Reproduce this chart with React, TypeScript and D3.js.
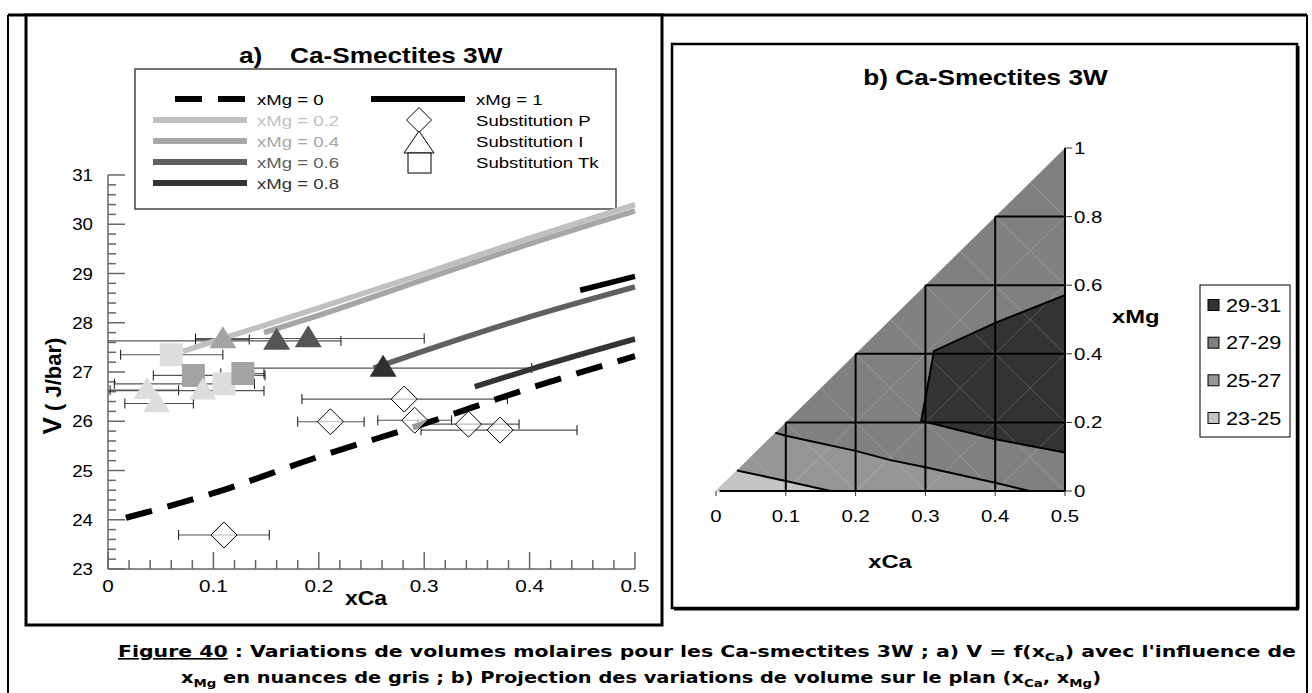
import React from 'react';
import * as d3 from 'd3';

// ---------- Panel a data ----------
const lineXMg0: [number, number][] = [[0.017, 24.04], [0.1, 24.54], [0.2, 25.28], [0.3, 25.95], [0.4, 26.67], [0.5, 27.32]];
const lineXMg02: [number, number][] = [[0.071, 27.42], [0.1, 27.62], [0.2, 28.3], [0.3, 29.0], [0.4, 29.72], [0.5, 30.4]];
const lineXMg04: [number, number][] = [[0.148, 27.8], [0.2, 28.15], [0.3, 28.88], [0.4, 29.6], [0.5, 30.27]];
const lineXMg06: [number, number][] = [[0.252, 27.08], [0.3, 27.43], [0.4, 28.12], [0.5, 28.73]];
const lineXMg08: [number, number][] = [[0.348, 26.7], [0.4, 27.05], [0.5, 27.67]];
const lineXMg1: [number, number][] = [[0.448, 28.66], [0.5, 28.94]];

const levelLabels = ['xMg = 0', 'xMg = 0.2', 'xMg = 0.4', 'xMg = 0.6', 'xMg = 0.8'];
const levelColors = ['#000000', '#c0c0c0', '#a6a6a6', '#606060', '#333333'];

// Substitution P (diamonds): xCa, V, error low, error high
const substP = [
  { x: 0.281, v: 26.45, lo: 0.184, hi: 0.379 },
  { x: 0.211, v: 25.99, lo: 0.18, hi: 0.243 },
  { x: 0.291, v: 26.02, lo: 0.256, hi: 0.326 },
  { x: 0.342, v: 25.94, lo: 0.294, hi: 0.39 },
  { x: 0.372, v: 25.82, lo: 0.297, hi: 0.445 },
  { x: 0.11, v: 23.69, lo: 0.067, hi: 0.153 },
];
// Substitution I (triangles)
const substI = [
  { x: 0.037, v: 26.63, lo: 0.002, hi: 0.067, c: '#dcdddc' },
  { x: 0.046, v: 26.36, lo: 0.016, hi: 0.081, c: '#dcdddc' },
  { x: 0.09, v: 26.62, lo: -0.05, hi: 0.148, c: '#dcdddc' },
  { x: 0.109, v: 27.66, lo: 0.083, hi: 0.134, c: '#a3a3a3' },
  { x: 0.16, v: 27.63, lo: -0.05, hi: 0.221, c: '#555555' },
  { x: 0.19, v: 27.68, lo: 0.083, hi: 0.3, c: '#555555' },
  { x: 0.261, v: 27.08, lo: 0.12, hi: 0.402, c: '#303030' },
];
// Substitution Tk (squares)
const substTk = [
  { x: 0.06, v: 27.35, lo: 0.012, hi: 0.109, c: '#dcdddc' },
  { x: 0.081, v: 26.93, lo: 0.043, hi: 0.149, c: '#a3a3a3' },
  { x: 0.11, v: 26.76, lo: 0.006, hi: 0.139, c: '#dcdddc' },
  { x: 0.128, v: 26.97, lo: 0.107, hi: 0.148, c: '#a3a3a3' },
];

// ---------- Panel b data ----------
const band2325: [number, number][] = [[0, 0], [0.03, 0.06], [0.1, 0.029], [0.164, 0]];
const band2527: [number, number][] = [[0, 0], [0.085, 0.17], [0.1, 0.161], [0.2, 0.117], [0.25, 0.09], [0.3, 0.069], [0.4, 0.024], [0.449, 0]];
const band2931: [number, number][] = [[0.5, 0.112], [0.4, 0.151], [0.294, 0.205], [0.311, 0.392], [0.312, 0.408], [0.4, 0.49], [0.5, 0.571]];
const triangleOutline: [number, number][] = [[0, 0], [0.5, 0], [0.5, 1]];
const bandLabels = ['29-31', '27-29', '25-27', '23-25'];
const bandColors = ['#333333', '#808080', '#969696', '#c4c4c4'];

// ---------- scales ----------
const xA = d3.scaleLinear().domain([0, 0.5]).range([108, 635]);
const yA = d3.scaleLinear().domain([23, 31]).range([569, 175]);
const xB = d3.scaleLinear().domain([0, 0.5]).range([716, 1065]);
const yB = d3.scaleLinear().domain([0, 1]).range([491, 148]);

const ARIAL = "'Liberation Sans', Arial, Helvetica, sans-serif";

function T(props: any) {
  const { x, y, children, size = 16, weight = 'normal', anchor = 'start', fill = '#000', sx = 1.2, rotate = 0, family = ARIAL } = props;
  return (
    <text transform={`translate(${x},${y}) rotate(${rotate}) scale(${sx},1)`} fontSize={size} fontWeight={weight}
      textAnchor={anchor} fill={fill} fontFamily={family}>{children}</text>
  );
}

const lineA = d3.line<[number, number]>().x(d => xA(d[0])).y(d => yA(d[1])).curve(d3.curveMonotoneX);
const polyB = (pts: [number, number][]) => 'M' + pts.map(p => `${xB(p[0])},${yB(p[1])}`).join('L') + 'Z';
const lineB = d3.line<[number, number]>().x(d => xB(d[0])).y(d => yB(d[1]));

function triPath(cx: number, cy: number, w: number, h: number) {
  return `M${cx},${cy - h * 0.6}L${cx + w / 2},${cy + h * 0.4}L${cx - w / 2},${cy + h * 0.4}Z`;
}
function diaPath(cx: number, cy: number, r: number) {
  return `M${cx},${cy - r}L${cx + r},${cy}L${cx},${cy + r}L${cx - r},${cy}Z`;
}

function ErrBar({ d }: any) {
  const y = yA(d.v);
  const x1 = xA(Math.max(d.lo, 0));
  const x2 = xA(d.hi);
  return (
    <g>
      <line x1={x1} x2={x2} y1={y} y2={y} stroke="#555" strokeWidth={1.2} />
      {d.lo >= 0 && <line x1={xA(d.lo)} x2={xA(d.lo)} y1={y - 5} y2={y + 5} stroke="#111" strokeWidth={1} />}
      <line x1={x2} x2={x2} y1={y - 5} y2={y + 5} stroke="#111" strokeWidth={1} />
    </g>
  );
}

function PanelA() {
  const majorX = xA.ticks(5);
  const minorX = xA.ticks(25);
  const majorY = yA.ticks(8);
  const minorY = yA.ticks(40);
  const fmt = (d: number) => String(+d.toFixed(2));
  const legendRows = [99, 120, 141, 162, 183];
  const allBars = [...substTk, ...substI, ...substP];
  return (
    <g>
      {/* title */}
      <T x={239} y={63} size={22} weight="bold" sx={1.19}>a)</T>
      <T x={290} y={63} size={22} weight="bold" sx={1.19}>Ca-Smectites 3W</T>

      {/* axes */}
      <g stroke="#666" strokeWidth={1.5}>
        <line x1={xA(0)} x2={xA(0)} y1={yA(23)} y2={yA(31)} />
        <line x1={xA(0)} x2={xA(0.5)} y1={yA(23)} y2={yA(23)} />
        {minorY.map((d, i) => (
          <line key={'my' + i} x1={xA(0)} x2={xA(0) + (Number.isInteger(+d.toFixed(3)) ? 17 : 8)} y1={yA(d)} y2={yA(d)} />
        ))}
        {minorX.map((d, i) => (
          <line key={'mx' + i} x1={xA(d)} x2={xA(d)} y1={yA(23)} y2={yA(23) - (Math.abs(d * 10 - Math.round(d * 10)) < 1e-6 ? 17 : 9)} />
        ))}
      </g>
      {majorY.map((d, i) => (
        <T key={'ly' + i} x={93} y={yA(d) + 6} size={17} sx={1.1} anchor="end">{fmt(d)}</T>
      ))}
      {majorX.map((d, i) => (
        <T key={'lx' + i} x={xA(d)} y={592} size={17} sx={1.22} anchor="middle">{fmt(d)}</T>
      ))}
      <T x={366} y={605} size={20} weight="bold" sx={1.15} anchor="middle">xCa</T>
      <g transform="translate(61,386) rotate(-90)">
        <text textAnchor="middle" fontFamily={ARIAL} fontWeight="bold">
          <tspan fontSize={26}>V</tspan><tspan fontSize={22}>{'  ( J/bar)'}</tspan>
        </text>
      </g>

      {/* legend */}
      <rect x={135} y={69} width={481} height={140} fill="#fff" stroke="#444" strokeWidth={1.5} />
      <line x1={175} x2={247} y1={legendRows[0]} y2={legendRows[0]} stroke="#000" strokeWidth={6} strokeDasharray="27 16" />
      {levelLabels.map((lab, i) => (
        <g key={'leg' + i}>
          {i > 0 && <line x1={153} x2={247} y1={legendRows[i]} y2={legendRows[i]} stroke={levelColors[i]} strokeWidth={6} />}
          <T x={257} y={legendRows[i] + 5.5} size={15} sx={1.24} fill={i === 0 ? '#000' : levelColors[i]}>{lab}</T>
        </g>
      ))}
      <line x1={371} x2={465} y1={legendRows[0]} y2={legendRows[0]} stroke="#000" strokeWidth={6} />
      <T x={476} y={legendRows[0] + 5.5} size={15} sx={1.24}>xMg = 1</T>
      <path d={diaPath(419, 120, 12.5)} fill="#fff" stroke="#000" strokeWidth={1} />
      <path d={`M419,131L434,153L404,153Z`} fill="#fff" stroke="#000" strokeWidth={1} />
      <rect x={408} y={153} width={23} height={20} fill="#fff" stroke="#000" strokeWidth={1} />
      <T x={476} y={legendRows[1] + 5.5} size={15} sx={1.24}>Substitution P</T>
      <T x={476} y={legendRows[2] + 5.5} size={15} sx={1.24}>Substitution I</T>
      <T x={476} y={legendRows[3] + 5.5} size={15} sx={1.24}>Substitution Tk</T>

      {/* plot content */}
      <g clipPath="url(#clipA)">
        {allBars.map((d, i) => <ErrBar key={'eb' + i} d={d} />)}
        <path d={lineA(lineXMg0) || ''} fill="none" stroke="#000" strokeWidth={6} strokeDasharray="27 16" />
        <path d={lineA(lineXMg04) || ''} fill="none" stroke={levelColors[2]} strokeWidth={5.5} />
        <path d={lineA(lineXMg02) || ''} fill="none" stroke={levelColors[1]} strokeWidth={5.5} />
        <path d={lineA(lineXMg06) || ''} fill="none" stroke={levelColors[3]} strokeWidth={5.5} />
        <path d={lineA(lineXMg08) || ''} fill="none" stroke={levelColors[4]} strokeWidth={5.5} />
        <path d={lineA(lineXMg1) || ''} fill="none" stroke="#000" strokeWidth={5.5} />
        {substTk.map((d, i) => (
          <rect key={'sq' + i} x={xA(d.x) - 11.5} y={yA(d.v) - 11.5} width={23} height={23} fill={d.c} />
        ))}
        {substI.map((d, i) => (
          <path key={'tr' + i} d={triPath(xA(d.x), yA(d.v), 27, 22)} fill={d.c} />
        ))}
        {substP.map((d, i) => (
          <path key={'di' + i} d={diaPath(xA(d.x), yA(d.v), 13)} fill="#fff" fillOpacity={0.6} stroke="#000" strokeWidth={1} />
        ))}
      </g>
    </g>
  );
}

function PanelB() {
  const xt = xB.ticks(5);
  const yt = [0, 0.2, 0.4, 0.6, 0.8, 1];
  const fmt = (d: number) => String(+d.toFixed(2));
  const cells: JSX.Element[] = [];
  for (let i = 0; i < 5; i++) {
    for (let j = 0; j < 5; j++) {
      const x0 = i * 0.1, x1 = x0 + 0.1, y0 = j * 0.2, y1 = y0 + 0.2;
      cells.push(<line key={`c1-${i}-${j}`} x1={xB(x0)} y1={yB(y1)} x2={xB(x1)} y2={yB(y0)} />);
      cells.push(<line key={`c2-${i}-${j}`} x1={xB(x0)} y1={yB(y0)} x2={xB(x1)} y2={yB(y1)} />);
    }
  }
  const legendRows = [305, 342.7, 380.3, 418];
  return (
    <g>
      <T x={985.5} y={85} size={22} weight="bold" sx={1.19} anchor="middle">b) Ca-Smectites 3W</T>
      <defs>
        <clipPath id="clipTri"><path d={polyB(triangleOutline)} /></clipPath>
      </defs>
      <path d={polyB(triangleOutline)} fill={bandColors[1]} />
      <g clipPath="url(#clipTri)">
        <path d={polyB(band2527)} fill={bandColors[2]} />
        <path d={polyB(band2325)} fill={bandColors[3]} />
        <path d={polyB(band2931)} fill={bandColors[0]} />
        <g stroke="#ffffff" strokeOpacity={0.28} strokeWidth={0.7}>{cells}</g>
      </g>
      {/* contour boundaries */}
      <g fill="none" stroke="#000" strokeWidth={2}>
        <path d={lineB(band2325.slice(1)) || ''} />
        <path d={lineB(band2527.slice(1)) || ''} />
        <path d={lineB(band2931) || ''} />
      </g>
      {/* grid */}
      <g stroke="#000" strokeWidth={2}>
        {[0.1, 0.2, 0.3, 0.4].map(v => (
          <line key={'gv' + v} x1={xB(v)} x2={xB(v)} y1={yB(0)} y2={yB(2 * v)} />
        ))}
        {[0.2, 0.4, 0.6, 0.8].map(v => (
          <line key={'gh' + v} x1={xB(v / 2)} x2={xB(0.5)} y1={yB(v)} y2={yB(v)} />
        ))}
        <line x1={xB(0.005)} x2={xB(0.5)} y1={yB(0)} y2={yB(0)} />
        <line x1={xB(0.5)} x2={xB(0.5)} y1={yB(0)} y2={yB(1)} />
      </g>
      {/* ticks */}
      <g stroke="#333" strokeWidth={1}>
        {xt.map((d, i) => <line key={'tx' + i} x1={xB(d)} x2={xB(d)} y1={yB(0)} y2={yB(0) + 5} />)}
        {yt.map((d, i) => <line key={'ty' + i} x1={xB(0.5)} x2={xB(0.5) + 7} y1={yB(d)} y2={yB(d)} />)}
      </g>
      {xt.map((d, i) => (
        <T key={'lbx' + i} x={xB(d)} y={522} size={17} sx={1.2} anchor="middle">{fmt(d)}</T>
      ))}
      {yt.map((d, i) => (
        <T key={'lby' + i} x={1074} y={yB(d) + 6} size={17} sx={1.2}>{fmt(d)}</T>
      ))}
      <T x={890} y={568} size={19} weight="bold" sx={1.25} anchor="middle">xCa</T>
      <T x={1112} y={323} size={19} weight="bold" sx={1.25}>xMg</T>
      {/* legend */}
      <rect x={1200} y={285} width={90} height={152} fill="#fff" stroke="#000" strokeWidth={1} />
      {bandLabels.map((lab, i) => (
        <g key={'bl' + i}>
          <rect x={1208} y={legendRows[i] - 5.5} width={11} height={11} fill={bandColors[i]} stroke="#000" strokeWidth={1} />
          <T x={1226} y={legendRows[i] + 6.5} size={18} sx={1.2}>{lab}</T>
        </g>
      ))}
    </g>
  );
}

export default function App() {
  const CAP = "'DejaVu Sans', Verdana, sans-serif";
  return (
    <svg width={1312} height={693} style={{ position: 'absolute', left: 0, top: 0, background: '#fff' }}>
      <defs>
        <clipPath id="clipA"><rect x={xA(0)} y={yA(31.5)} width={xA(0.5) - xA(0) + 4} height={yA(23) - yA(31.5)} /></clipPath>
      </defs>
      <rect x={0} y={0} width={1312} height={693} fill="#fff" />
      {/* outer frame */}
      <line x1={8} x2={1307} y1={15} y2={15} stroke="#000" strokeWidth={3} />
      <line x1={8} x2={8} y1={15} y2={693} stroke="#000" strokeWidth={2} />
      <line x1={1307} x2={1307} y1={15} y2={693} stroke="#000" strokeWidth={2} />
      {/* panel frames */}
      <rect x={26} y={15} width={636} height={610} fill="#fff" stroke="#000" strokeWidth={3} />
      <rect x={672} y={44} width={625} height={564} fill="#fff" stroke="#000" strokeWidth={2.5} />
      <line x1={1298.5} x2={1298.5} y1={46} y2={609} stroke="#000" strokeWidth={2} />
      <line x1={674} x2={1299} y1={609.5} y2={609.5} stroke="#000" strokeWidth={2} />
      <PanelA />
      <PanelB />
      {/* caption */}
      <text x={118} y={657} fontFamily={CAP} fontWeight="bold" fontSize={16} textLength={1178} lengthAdjust="spacingAndGlyphs">
        <tspan textDecoration="underline">Figure 40</tspan>
        <tspan>{' : Variations de volumes molaires pour les Ca-smectites 3W ; a) V = f(x'}</tspan>
        <tspan fontSize={11} dy={4}>Ca</tspan>
        <tspan dy={-4}>{") avec l'influence de"}</tspan>
      </text>
      <text x={181} y={683} fontFamily={CAP} fontWeight="bold" fontSize={16} textLength={920} lengthAdjust="spacingAndGlyphs">
        <tspan>x</tspan>
        <tspan fontSize={11} dy={4}>Mg</tspan>
        <tspan dy={-4}>{' en nuances de gris ; b) Projection des variations de volume sur le plan (x'}</tspan>
        <tspan fontSize={11} dy={4}>Ca</tspan>
        <tspan dy={-4}>{', x'}</tspan>
        <tspan fontSize={11} dy={4}>Mg</tspan>
        <tspan dy={-4}>)</tspan>
      </text>
    </svg>
  );
}
